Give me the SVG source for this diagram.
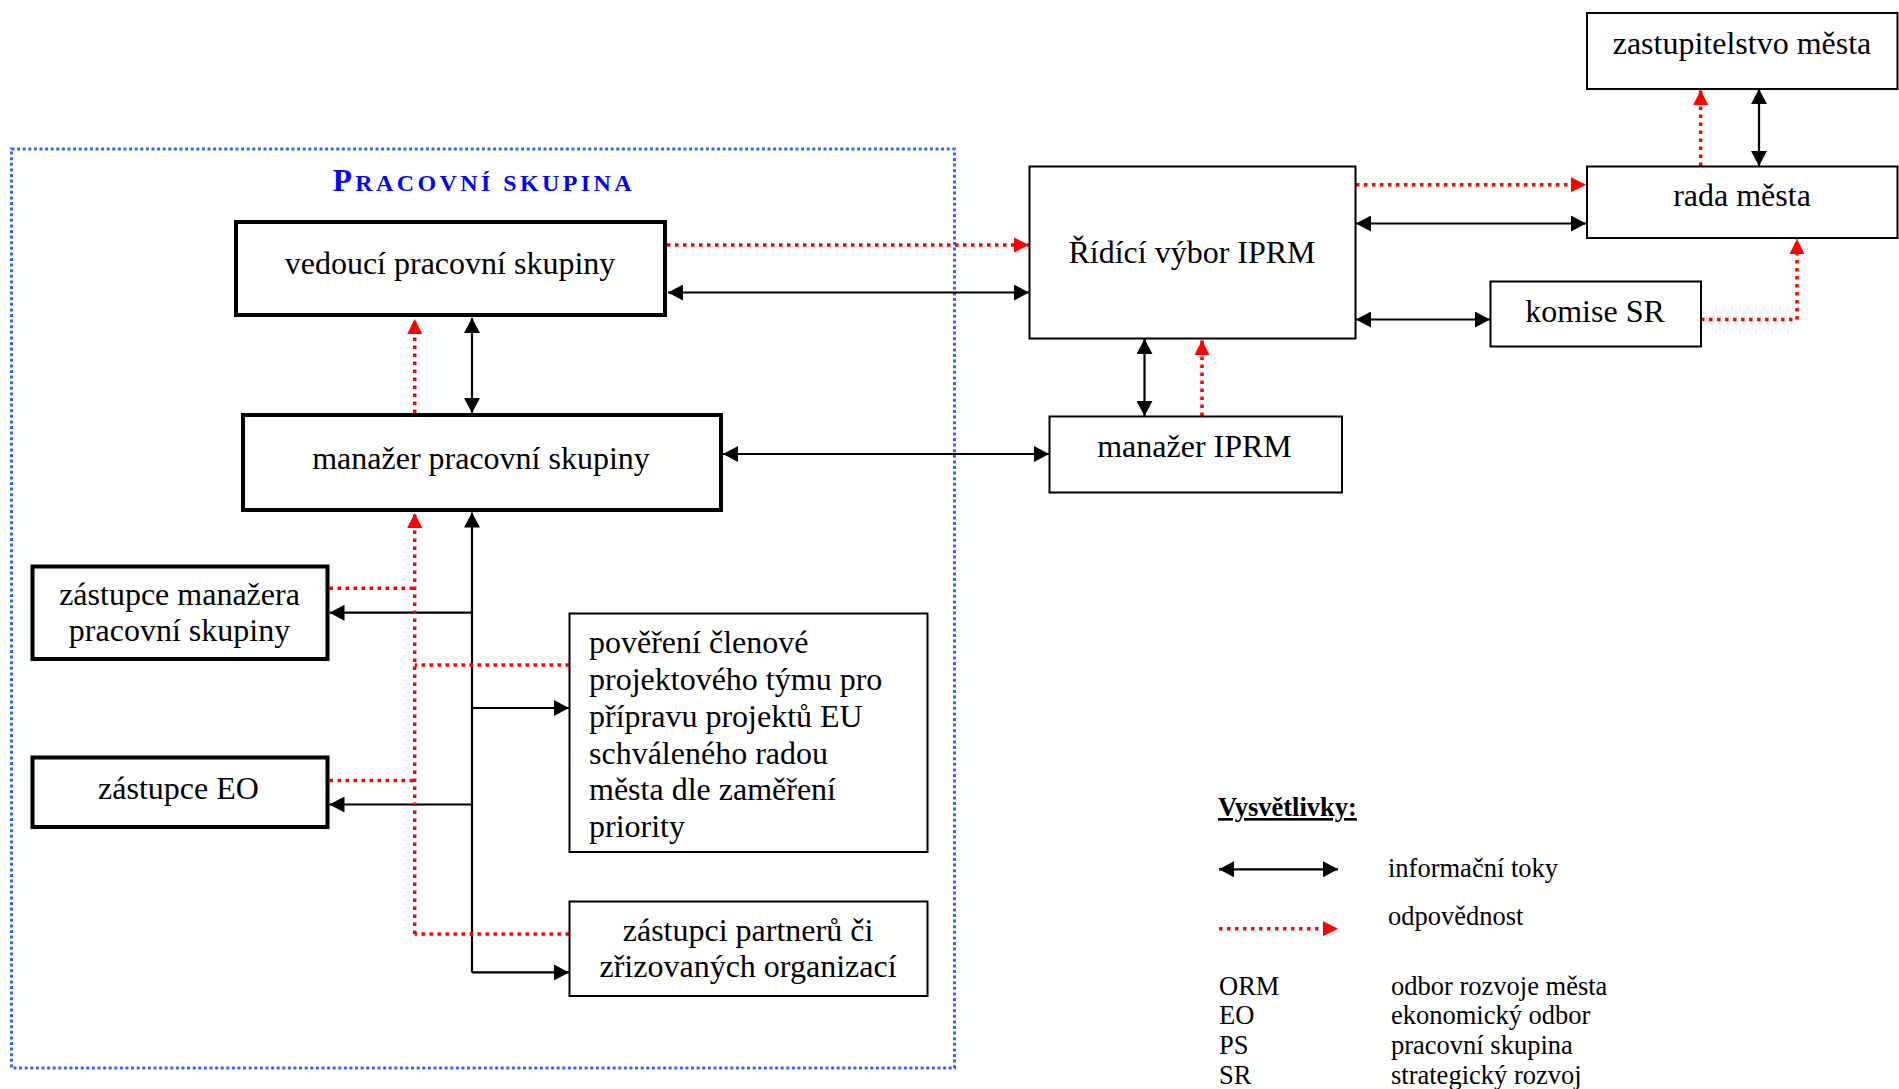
<svg xmlns="http://www.w3.org/2000/svg" width="1899" height="1089" viewBox="0 0 1899 1089">
<style>
  .bg { fill: #ffffff; }
  .box { fill: #ffffff; stroke: #000000; stroke-width: 2; }
  .thick { fill: #ffffff; stroke: #000000; stroke-width: 4; }
  .t { font-family: "Liberation Serif", "Times New Roman", serif; font-size: 32px; fill: #000000; }
  .c { text-anchor: middle; }
  .leg { font-family: "Liberation Serif", "Times New Roman", serif; font-size: 26.5px; fill: #000000; }
  .info { fill: none; stroke: #000000; stroke-width: 2.2; }
  .resp { fill: none; stroke: #ff0000; stroke-width: 3.5; stroke-dasharray: 3.5 4.5; }
  .group { fill: none; stroke: #3366ff; stroke-width: 3; stroke-dasharray: 3 2.6; }
  .title { font-family: "Liberation Serif", "Times New Roman", serif; font-weight: bold; fill: #0000ff; letter-spacing: 3.4px; }
</style>
<defs>
  <marker id="ab" viewBox="0 0 15 16" refX="15" refY="8" markerWidth="15" markerHeight="16" markerUnits="userSpaceOnUse" orient="auto-start-reverse">
    <path d="M0,0 L15,8 L0,16 z" fill="#000000"/>
  </marker>
  <marker id="ar" viewBox="0 0 15 15" refX="15" refY="7.5" markerWidth="15" markerHeight="15" markerUnits="userSpaceOnUse" orient="auto-start-reverse">
    <path d="M0,0 L15,7.5 L0,15 z" fill="#ff0000"/>
  </marker>
</defs>
<rect class="bg" x="0" y="0" width="1899" height="1089"/>

<!-- working group frame -->
<g id="pracovni-skupina">
  <rect class="group" x="11.5" y="149" width="943" height="919"/>
  <text class="title" x="332.7" y="190.7"><tspan font-size="31.5">P</tspan><tspan font-size="24">RACOVNÍ SKUPINA</tspan></text>
</g>

<!-- connectors -->
<g id="connectors">
  <!-- information flows (black, double) -->
  <line class="info" x1="668" y1="292.5" x2="1029" y2="292.5" marker-start="url(#ab)" marker-end="url(#ab)"/>
  <line class="info" x1="472" y1="318" x2="472" y2="413" marker-start="url(#ab)" marker-end="url(#ab)"/>
  <line class="info" x1="723" y1="454" x2="1049" y2="454" marker-start="url(#ab)" marker-end="url(#ab)"/>
  <line class="info" x1="1356" y1="223.5" x2="1586" y2="223.5" marker-start="url(#ab)" marker-end="url(#ab)"/>
  <line class="info" x1="1356" y1="319.5" x2="1490" y2="319.5" marker-start="url(#ab)" marker-end="url(#ab)"/>
  <line class="info" x1="1144.5" y1="339" x2="1144.5" y2="416" marker-start="url(#ab)" marker-end="url(#ab)"/>
  <line class="info" x1="1759" y1="89" x2="1759" y2="166" marker-start="url(#ab)" marker-end="url(#ab)"/>
  <!-- trunk from manager of PS -->
  <line class="info" x1="472" y1="972.4" x2="472" y2="512.5" marker-end="url(#ab)"/>
  <line class="info" x1="472" y1="612.7" x2="329.5" y2="612.7" marker-end="url(#ab)"/>
  <line class="info" x1="472" y1="708" x2="569" y2="708" marker-end="url(#ab)"/>
  <line class="info" x1="472" y1="804.5" x2="329.5" y2="804.5" marker-end="url(#ab)"/>
  <line class="info" x1="472" y1="972.4" x2="569" y2="972.4" marker-end="url(#ab)"/>

  <!-- responsibility (red dotted) -->
  <line class="resp" x1="667" y1="245" x2="1029" y2="245" marker-end="url(#ar)"/>
  <line class="resp" x1="414.7" y1="413" x2="414.7" y2="319" marker-end="url(#ar)"/>
  <line class="resp" x1="1356" y1="184.7" x2="1586" y2="184.7" marker-end="url(#ar)"/>
  <line class="resp" x1="1700.7" y1="166" x2="1700.7" y2="90" marker-end="url(#ar)"/>
  <polyline class="resp" points="1701,319.5 1797,319.5 1797,239" marker-end="url(#ar)"/>
  <line class="resp" x1="1202" y1="416" x2="1202" y2="340" marker-end="url(#ar)"/>
  <line class="resp" x1="414.7" y1="934" x2="414.7" y2="513" marker-end="url(#ar)"/>
  <line class="resp" x1="329.5" y1="588.3" x2="414.7" y2="588.3"/>
  <line class="resp" x1="569" y1="665" x2="414.7" y2="665"/>
  <line class="resp" x1="329.5" y1="780.6" x2="414.7" y2="780.6"/>
  <line class="resp" x1="569" y1="934" x2="414.7" y2="934"/>
</g>

<!-- nodes -->
<g id="vedouci">
  <rect class="thick" x="236" y="222" width="429" height="93"/>
  <text class="t c" x="450" y="274">vedoucí pracovní skupiny</text>
</g>
<g id="manazer-ps">
  <rect class="thick" x="243" y="415" width="478" height="95"/>
  <text class="t c" x="481" y="469">manažer pracovní skupiny</text>
</g>
<g id="ridici-vybor">
  <rect class="box" x="1029.5" y="166.5" width="326" height="172"/>
  <text class="t c" x="1192" y="263">Řídící výbor IPRM</text>
</g>
<g id="zastupitelstvo">
  <rect class="box" x="1587" y="13" width="310.5" height="76"/>
  <text class="t c" x="1742" y="54">zastupitelstvo města</text>
</g>
<g id="rada">
  <rect class="box" x="1587" y="166.5" width="310.5" height="71.5"/>
  <text class="t c" x="1742" y="206">rada města</text>
</g>
<g id="komise-sr">
  <rect class="box" x="1490.5" y="281.5" width="210.5" height="65"/>
  <text class="t c" x="1595" y="321.5">komise SR</text>
</g>
<g id="manazer-iprm">
  <rect class="box" x="1049.5" y="416.5" width="292.5" height="76"/>
  <text class="t c" x="1194.5" y="457">manažer IPRM</text>
</g>
<g id="zastupce-manazera">
  <rect class="thick" x="32.5" y="566.5" width="295" height="92.5"/>
  <text class="t c" x="179.5" y="605">zástupce manažera</text>
  <text class="t c" x="179.5" y="641">pracovní skupiny</text>
</g>
<g id="zastupce-eo">
  <rect class="thick" x="32.5" y="757.5" width="295" height="69.5"/>
  <text class="t c" x="178.5" y="799">zástupce EO</text>
</g>
<g id="povereni">
  <rect class="box" x="569.5" y="613.5" width="358" height="238.5"/>
  <text class="t" x="589" y="653">pověření členové</text>
  <text class="t" x="589" y="689.5">projektového týmu pro</text>
  <text class="t" x="589" y="726.5">přípravu projektů EU</text>
  <text class="t" x="589" y="763.5">schváleného radou</text>
  <text class="t" x="589" y="800">města dle zaměření</text>
  <text class="t" x="589" y="836.5">priority</text>
</g>
<g id="zastupci-partneru">
  <rect class="box" x="569.5" y="901.5" width="358" height="94.5"/>
  <text class="t c" x="748" y="940.5">zástupci partnerů či</text>
  <text class="t c" x="748" y="976.5">zřizovaných organizací</text>
</g>

<!-- legend -->
<g id="legenda">
  <text class="leg" x="1218" y="816" font-weight="bold" text-decoration="underline">Vysvětlivky:</text>
  <line class="info" x1="1219" y1="869.3" x2="1338" y2="869.3" marker-start="url(#ab)" marker-end="url(#ab)"/>
  <text class="leg" x="1388" y="877">informační toky</text>
  <line class="resp" x1="1219" y1="928.7" x2="1338" y2="928.7" marker-end="url(#ar)"/>
  <text class="leg" x="1388" y="925">odpovědnost</text>
  <text class="leg" x="1219" y="995">ORM</text>
  <text class="leg" x="1391" y="995">odbor rozvoje města</text>
  <text class="leg" x="1219" y="1024">EO</text>
  <text class="leg" x="1391" y="1024">ekonomický odbor</text>
  <text class="leg" x="1219" y="1054">PS</text>
  <text class="leg" x="1391" y="1054">pracovní skupina</text>
  <text class="leg" x="1219" y="1084">SR</text>
  <text class="leg" x="1391" y="1084">strategický rozvoj</text>
</g>
</svg>
